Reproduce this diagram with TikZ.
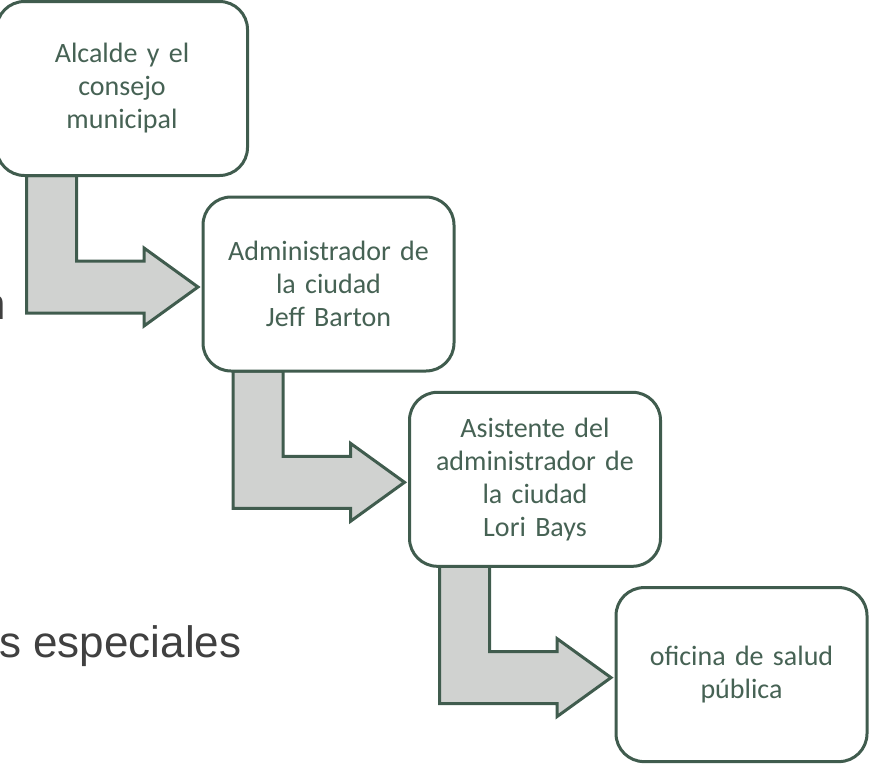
\documentclass[tikz,border=0pt]{standalone}
\usepackage{fontspec}
\setmainfont{Carlito}
\newfontfamily\bgfont{Liberation Sans}
\usetikzlibrary{calc}
\definecolor{bordc}{RGB}{64,92,78}
\definecolor{txtc}{RGB}{70,98,84}
\definecolor{arrfill}{RGB}{208,210,208}
\definecolor{slidetxt}{RGB}{64,64,64}
\pgfdeclarelayer{bg}
\pgfsetlayers{bg,main}
\newcommand\bentarrow[2]{%
  \coordinate (s#1) at ($(#1.south west)+(30,0)$);
  \coordinate (t#1) at ($(#2.west)+(-5,3)$);
  \begin{pgfonlayer}{bg}
  \draw[bendarrow] (s#1) -- ($(s#1 |- t#1)+(0,26)$) -- ($(t#1)+(-54,26)$) -- ($(t#1)+(-54,39)$) -- (t#1) -- ($(t#1)+(-54,-39)$) -- ($(t#1)+(-54,-26)$) -- ($(s#1 |- t#1)+(50,-26)$) -- ($(s#1)+(50,0)$) -- cycle;
  \end{pgfonlayer}}
\begin{document}
\begin{tikzpicture}[x=1pt,y=-1pt,
  box/.style={draw=bordc, line width=3pt, rounded corners=28pt, fill=white,
    minimum width=251pt, minimum height=174pt, inner sep=0pt, outer sep=0pt,
    align=center, text width=245pt, font=\fontsize{28}{33}\selectfont, text=txtc},
  bendarrow/.style={draw=bordc, line width=3pt, fill=arrfill, line join=miter},
  slide/.style={font=\bgfont\fontsize{44}{52}\selectfont, text=slidetxt, inner sep=0pt}]
\useasboundingbox (0,0) rectangle (869,763);
\node[slide, anchor=base east] (frag1) at (6,319) {n};
\node[slide, anchor=base west] (frag2) at (-1,657) {s especiales};
\node[box] (b1) at (122,88.5) {Alcalde y el\\consejo\\municipal};
\node[box] (b2) at (328.5,284) {Administrador de\\la ciudad\\Jeff Barton};
\node[box] (b3) at (535,479.3) {Asistente del\\administrador de\\la ciudad\\Lori Bays};
\node[box] (b4) at (741.5,674.6) {oficina de salud\\pública};
\bentarrow{b1}{b2}
\bentarrow{b2}{b3}
\bentarrow{b3}{b4}
\end{tikzpicture}
\end{document}
